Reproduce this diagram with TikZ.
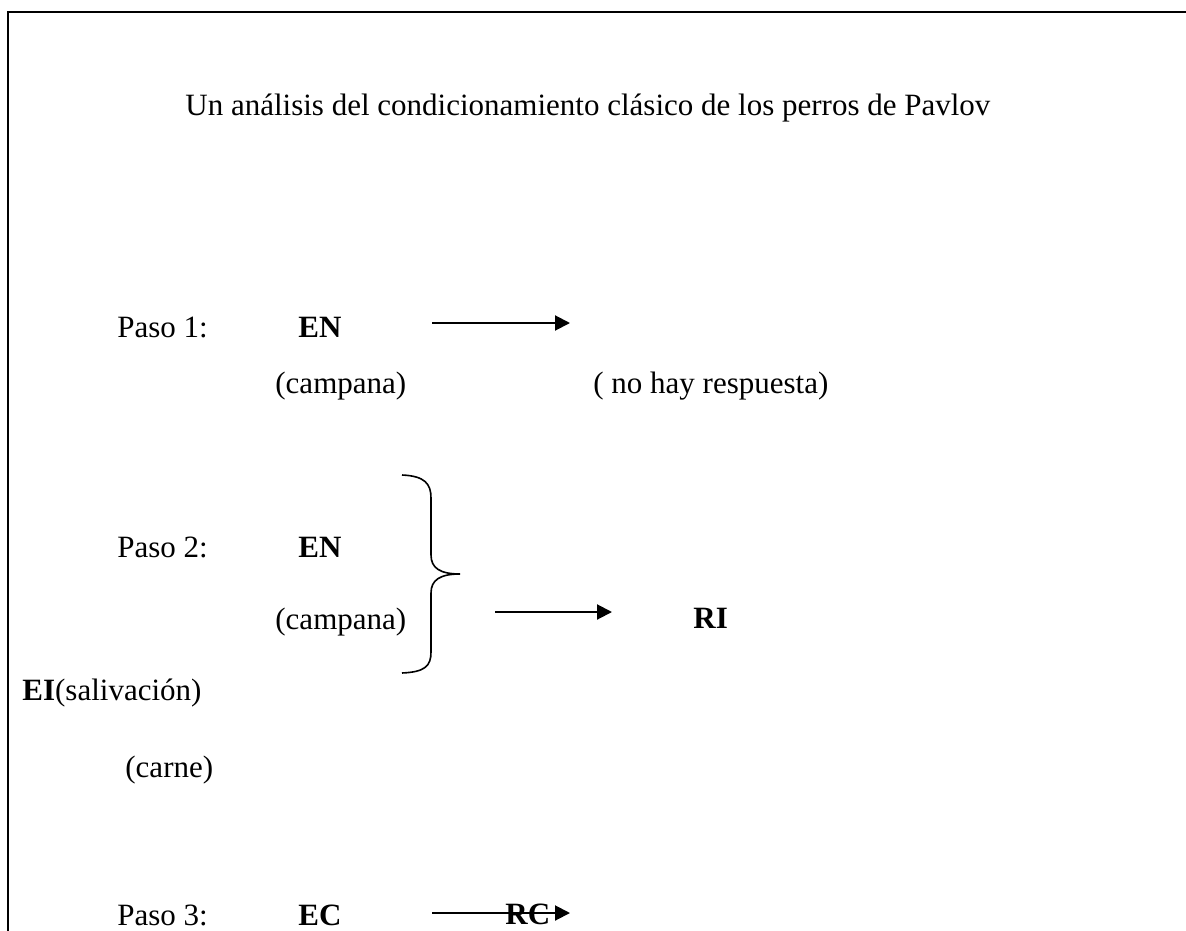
\documentclass[tikz,border=0pt]{standalone}
\usepackage{fontspec}
\setmainfont{Liberation Serif}
\usetikzlibrary{arrows.meta}
\begin{document}
\begin{tikzpicture}[x=0.5pt,y=-0.5pt,
  txt/.style={anchor=base west, inner sep=0pt, font=\fontsize{15.5}{18}\selectfont},
  arr/.style={line width=1pt, -{Triangle[length=7.5pt,width=7.5pt]}},
  frameline/.style={line width=1pt},
  bracestyle/.style={line width=0.8pt}]
\useasboundingbox (0,0) rectangle (1186,930);
\draw[frameline] (8,931) -- (8,12) -- (1187,12);

\node[txt] (title) at (185,116) {Un análisis del condicionamiento clásico de los perros de Pavlov};

% Paso 1
\node[txt] (p1) at (117,337) {Paso 1:};
\node[txt] (en1) at (298,337) {\bfseries EN};
\node[txt] (camp1) at (275,393) {(campana)};
\node[txt] (nohay) at (593,393) {( no hay respuesta)};
\coordinate (a1s) at (432,323);
\coordinate (a1e) at (570,323);
\draw[arr] (a1s) -- (a1e);

% Paso 2
\node[txt] (p2) at (117,557) {Paso 2:};
\node[txt] (en2) at (298,557) {\bfseries EN};
\node[txt] (camp2) at (275,629) {(campana)};
\draw[bracestyle] (402,475) .. controls (425,476) and (431,484) .. (431,498)
  -- (431,555) .. controls (431,568) and (440,574) .. (460,574)
  .. controls (440,574) and (431,580) .. (431,593)
  -- (431,652) .. controls (431,666) and (425,672) .. (402,673);
\coordinate (a2s) at (495,612);
\coordinate (a2e) at (612,612);
\draw[arr] (a2s) -- (a2e);
\node[txt] (ri) at (693,628) {\bfseries RI};
\node[txt] (ei) at (22,700) {\textbf{EI}(salivación)};
\node[txt] (carne) at (125,777) {(carne)};

% Paso 3
\node[txt] (p3) at (117,925) {Paso 3:};
\node[txt] (ec) at (298,925) {\bfseries EC};
\coordinate (a3s) at (432,913);
\coordinate (a3e) at (570,913);
\draw[arr] (a3s) -- (a3e);
\node[txt] (rc) at (505,924) {\bfseries RC};
\end{tikzpicture}
\end{document}
